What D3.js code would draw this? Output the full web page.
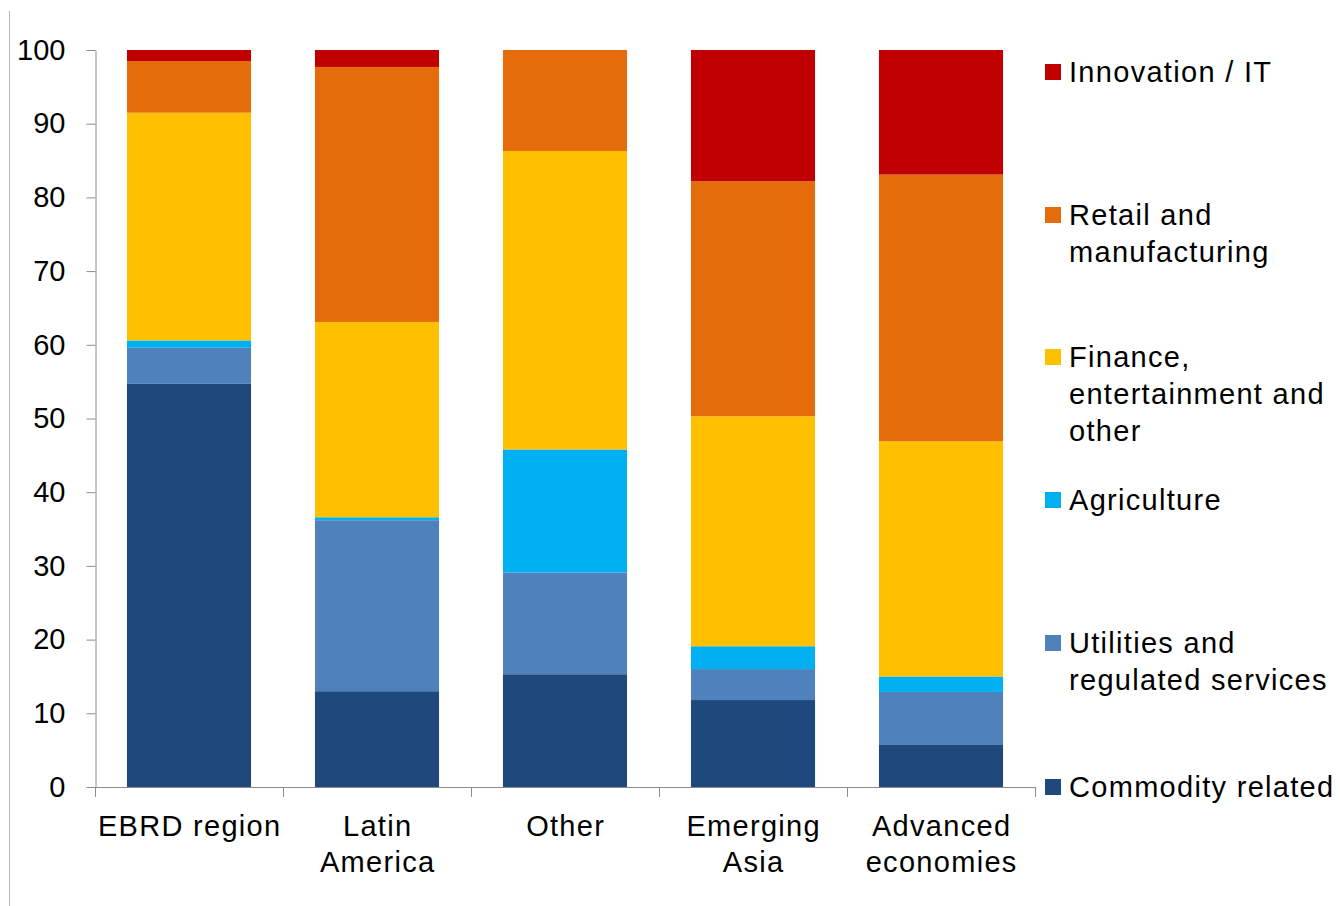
<!DOCTYPE html>
<html>
<head>
<meta charset="utf-8">
<script src="https://cdn.jsdelivr.net/npm/d3@7/dist/d3.min.js"></script>
<style>
html,body{margin:0;padding:0;background:#fff;}
svg{display:block;font-family:"Liberation Sans",Arial,sans-serif;}
</style>
</head>
<body>
<svg id="chart" width="1340" height="906"></svg>
<script>
const categories = ["EBRD region", "Latin America", "Other", "Emerging Asia", "Advanced economies"];
const categoryLines = [["EBRD region"], ["Latin", "America"], ["Other"], ["Emerging", "Asia"], ["Advanced", "economies"]];
const seriesNames = ["Commodity related", "Utilities and regulated services", "Agriculture", "Finance, entertainment and other", "Retail and manufacturing", "Innovation / IT"];
const legendLines = [["Commodity related"], ["Utilities and", "regulated services"], ["Agriculture"], ["Finance,", "entertainment and", "other"], ["Retail and", "manufacturing"], ["Innovation / IT"]];
const colors = ["#1F497D", "#4F81BD", "#00B0F0", "#FFC000", "#E46C0A", "#C00000"];
const commodity   = [54.7, 13.0, 15.3, 11.8, 5.7];
const utilities   = [4.9, 23.2, 13.8, 4.2, 7.2];
const agriculture = [1.0, 0.4, 16.7, 3.1, 2.1];
const finance     = [30.9, 26.5, 40.5, 31.2, 31.9];
const retail      = [7.0, 34.6, 13.7, 31.9, 36.2];
const innovation  = [1.5, 2.3, 0.0, 17.8, 16.9];
const yTicks = [0, 10, 20, 30, 40, 50, 60, 70, 80, 90, 100];

(function() {
const FS = 29, LS = 1.3;
const seriesValues = [commodity, utilities, agriculture, finance, retail, innovation];
const keys = seriesNames;
const table = categories.map((c, i) => {
  const row = {category: c};
  keys.forEach((k, j) => row[k] = seriesValues[j][i]);
  return row;
});
const stacked = d3.stack().keys(keys)(table);

const svg = d3.select("#chart");
const mLeft = 95, mRight = 1035, mTop = 50, mBottom = 787;

const x = d3.scaleBand().domain(categories).range([mLeft, mRight]).paddingInner(0.34).paddingOuter(0.17);
const y = d3.scaleLinear().domain([0, 100]).range([mBottom, mTop]);

// frame line at left
svg.append("line").attr("x1", 9.5).attr("x2", 9.5).attr("y1", 11).attr("y2", 906)
  .attr("stroke", "#b8b8b8").attr("stroke-width", 1);

// bars
svg.append("g").selectAll("g").data(stacked).join("g")
  .attr("fill", (d, i) => colors[i])
  .selectAll("rect").data(d => d).join("rect")
  .attr("x", d => x(d.data.category))
  .attr("width", x.bandwidth())
  .attr("y", d => y(d[1]))
  .attr("height", d => Math.max(0, y(d[0]) - y(d[1])));

// y axis
const yAxis = svg.append("g").attr("transform", `translate(${mLeft + 0.5},0)`)
  .call(d3.axisLeft(y).tickValues(yTicks).tickSize(9).tickPadding(21).tickSizeOuter(0));
yAxis.select(".domain").attr("stroke", "#8c8c8c");
yAxis.selectAll(".tick line").attr("stroke", "#8c8c8c");
yAxis.selectAll(".tick text").attr("font-size", FS).attr("fill", "#000")
  .attr("font-family", "Liberation Sans, Arial, sans-serif");

// x axis
const xg = svg.append("g");
xg.append("line").attr("x1", mLeft).attr("x2", mRight + 0.5).attr("y1", mBottom + 0.5).attr("y2", mBottom + 0.5)
  .attr("stroke", "#8c8c8c");
const boundaries = d3.range(categories.length + 1).map(i => mLeft + i * (mRight - mLeft) / categories.length);
xg.selectAll("line.tk").data(boundaries).join("line").attr("class", "tk")
  .attr("x1", d => Math.round(d) + 0.5).attr("x2", d => Math.round(d) + 0.5)
  .attr("y1", mBottom).attr("y2", mBottom + 10).attr("stroke", "#8c8c8c");

xg.selectAll("text.cat").data(categories).join("text").attr("class", "cat")
  .attr("y", 836)
  .attr("text-anchor", "middle")
  .attr("font-size", FS)
  .attr("letter-spacing", LS)
  .attr("fill", "#000")
  .each(function(d, i) {
    const t = d3.select(this);
    const cx = x(d) + x.bandwidth() / 2 + LS / 2;
    categoryLines[i].forEach((line, k) => {
      t.append("tspan").attr("x", cx).attr("dy", k === 0 ? 0 : 36).text(line);
    });
  });

// legend
const legendY = [787, 643, 500, 357, 215, 72];
const lg = svg.append("g");
seriesNames.forEach((name, i) => {
  const cy = legendY[i];
  lg.append("rect").attr("x", 1045).attr("y", cy - 8).attr("width", 16).attr("height", 16).attr("fill", colors[i]);
  const t = lg.append("text").attr("x", 1069).attr("y", cy + 10).attr("font-size", FS)
    .attr("letter-spacing", LS).attr("fill", "#000");
  legendLines[i].forEach((line, k) => {
    t.append("tspan").attr("x", 1069).attr("dy", k === 0 ? 0 : 37).text(line);
  });
});
})();
</script>
</body>
</html>
